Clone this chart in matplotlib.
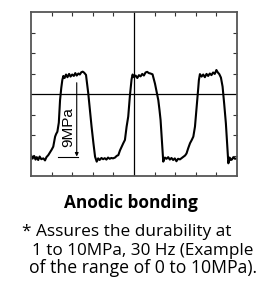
import matplotlib
matplotlib.use("Agg")
import matplotlib.pyplot as plt

# waveform (x: 0-10 divisions, y: 0-8 divisions)
wave_x = [0.00, 0.08, 0.15, 0.22, 0.28, 0.35, 0.42, 0.50, 0.60, 0.68, 0.75, 0.84, 0.92, 1.00, 1.08,
          1.17, 1.22, 1.28, 1.35, 1.41, 1.47, 1.52, 1.57, 1.63, 1.70, 1.77, 1.85, 1.92, 2.00, 2.08,
          2.15, 2.22, 2.30, 2.37, 2.44, 2.51, 2.58, 2.67, 2.78, 2.86, 2.94, 3.03, 3.11, 3.19, 3.26,
          3.33, 3.42, 3.50, 3.58, 3.66, 3.74, 3.82, 3.90, 3.98, 4.08, 4.16, 4.24, 4.32, 4.40, 4.48,
          4.56, 4.64, 4.72, 4.80, 4.88, 4.93, 5.00, 5.08, 5.16, 5.24, 5.32, 5.40, 5.48, 5.56, 5.64,
          5.72, 5.80, 5.90, 6.02, 6.10, 6.18, 6.24, 6.29, 6.35, 6.42, 6.50, 6.58, 6.66, 6.74, 6.82,
          6.90, 6.98, 7.06, 7.14, 7.23, 7.32, 7.40, 7.48, 7.55, 7.63, 7.72, 7.80, 7.88, 7.96, 8.02,
          8.07, 8.12, 8.15, 8.20, 8.28, 8.36, 8.44, 8.52, 8.60, 8.68, 8.76, 8.84, 8.92, 9.00, 9.07,
          9.14, 9.22, 9.30, 9.38, 9.46, 9.52, 9.58, 9.64, 9.70, 9.76, 9.82, 9.90, 10.00]
wave_y = [1.02, 0.85, 0.98, 0.80, 0.92, 0.78, 0.95, 0.82, 0.86, 0.76, 0.92, 1.02, 1.15, 1.28, 1.43,
          1.92, 2.05, 2.16, 2.60, 3.70, 4.30, 4.68, 4.88, 4.78, 4.95, 4.82, 4.98, 4.85, 4.95, 4.88,
          5.02, 4.90, 5.00, 4.95, 5.06, 5.09, 5.04, 4.93, 4.03, 3.20, 2.41, 1.60, 0.94, 0.70, 0.86,
          0.78, 0.88, 0.82, 0.87, 0.80, 0.90, 0.84, 0.88, 0.86, 0.90, 0.98, 1.02, 1.25, 1.43, 1.60,
          1.76, 2.40, 2.90, 3.90, 4.70, 4.95, 4.82, 4.90, 4.78, 4.92, 4.86, 4.98, 4.90, 5.05, 5.08,
          5.02, 5.00, 4.96, 4.50, 4.10, 3.70, 3.20, 2.73, 1.80, 0.70, 0.90, 0.84, 0.92, 0.80, 0.88,
          0.78, 0.86, 0.72, 0.84, 0.81, 0.88, 0.94, 1.00, 1.10, 1.35, 1.60, 1.75, 1.92, 2.41, 3.10,
          3.70, 4.30, 4.68, 4.97, 4.85, 4.95, 4.82, 4.98, 4.88, 5.00, 4.92, 5.05, 4.98, 5.17, 5.05,
          4.97, 4.80, 4.36, 3.50, 2.57, 1.60, 0.62, 0.90, 0.78, 0.81, 0.92, 0.84, 0.86]
label_text = "9MPa"
title_text = "Anodic bonding"
note_lines = ["* Assures the durability at",
              "1 to 10MPa, 30 Hz (Example",
              "of the range of 0 to 10MPa)."]

W, H = 265, 281
fig = plt.figure(figsize=(W / 100, H / 100), dpi=100)
ax = fig.add_axes([31 / W, 1 - 176 / H, 206 / W, 164 / H])
ax.plot(wave_x, wave_y, color="black", lw=1.5, solid_joinstyle="round")
ax.set_xlim(0, 10)
ax.set_ylim(0, 8)
ax.axvline(5, color="black", lw=0.9)
ax.axhline(4, color="black", lw=0.9)
ax.set_xticks([1, 2, 3, 4, 6, 7, 8, 9])
ax.set_yticks([1, 2, 3, 5, 6, 7])
ax.tick_params(direction="in", length=3, width=0.8, top=True, right=True,
               labelbottom=False, labelleft=False, color="#333333")
for s in ax.spines.values():
    s.set_color("#555555")
    s.set_linewidth(1.3)

# 9MPa annotation
ax.annotate("", xy=(2.22, 0.95), xytext=(2.22, 4.55),
            arrowprops=dict(arrowstyle="-|>", color="black", lw=0.8,
                            mutation_scale=5, shrinkA=0, shrinkB=0))
ax.plot([1.32, 2.28], [0.92, 0.92], color="black", lw=0.8)

renderer = fig.canvas.get_renderer()


def fit(t, target_w, horiz=True):
    bb = t.get_window_extent(renderer)
    size = t.get_fontsize()
    cur = bb.width if horiz else bb.height
    t.set_fontsize(size * target_w / cur)


mp = fig.text(75 / W, 1 - 127 / H, label_text, rotation=90, ha="right", va="center",
              fontsize=9, family="Liberation Sans")
fit(mp, 40, horiz=False)

tt = fig.text(64 / W, 1 - 208 / H, title_text, ha="left", va="baseline",
              fontsize=10, fontweight="bold", family="Open Sans")
fit(tt, 134)

lefts = [22, 32, 29]
rights = [232, 253, 258]
bases = [236, 255, 273]
for t, l, r, b in zip(note_lines, lefts, rights, bases):
    tx = fig.text(l / W, 1 - b / H, t, ha="left", va="baseline", fontsize=10, family="Open Sans")
    fit(tx, r - l)

fig.savefig("out.png", dpi=100)
